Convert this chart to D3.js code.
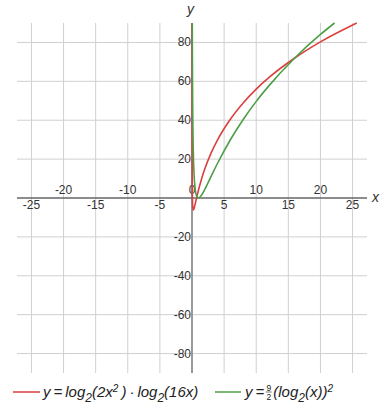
<!DOCTYPE html>
<html><head><meta charset="utf-8">
<script src="https://cdn.jsdelivr.net/npm/d3@7"></script>
<style>body{margin:0;background:#fff}svg{display:block}</style>
</head><body>
<script>
// Data
const xTicksAbove = [-20, -10, 0, 10, 20];
const xTicksBelow = [-25, -15, -5, 5, 15, 25];
const yTicks = [-80, -60, -40, -20, 20, 40, 60, 80];
const xGrid = [-25, -20, -15, -10, -5, 0, 5, 10, 15, 20, 25];
const redX = [0.0017, 0.002, 0.005, 0.01, 0.02, 0.04, 0.0625, 0.1, 0.21, 0.35, 0.5, 0.707, 1, 1.5, 2, 3, 4, 6, 8, 10, 12, 16, 20, 25.65];
const redY = [90, 84.1, 52.1, 32.5, 16.9, 5.3, 0, -3.8, -6.1, -5.0, -3, 0, 4, 9.95, 15, 23.3, 30, 40.6, 49, 56, 62, 72, 80.3, 90];
const greenX = [0.0453, 0.06, 0.1, 0.2, 0.3, 0.5, 0.7, 1, 1.5, 2, 3, 4, 6, 8, 10, 12, 16, 20, 22.2];
const greenY = [90, 74.1, 49.7, 24.3, 13.6, 4.5, 1.2, 0, 1.5, 4.5, 11.3, 18, 30.1, 40.5, 49.7, 57.8, 72, 84.1, 90];

const W = 384, H = 415;
const svg = d3.select("body").append("svg").attr("width", W).attr("height", H);
const x = d3.scaleLinear().domain([-27.25, 27.25]).range([17, 367]);
const y = d3.scaleLinear().domain([-90, 90]).range([373, 23]);
const tickFont = "'Liberation Sans', Arial, sans-serif";
const gridC = "#d0d0d0";

// grid
svg.append("g").selectAll("line").data(xGrid).join("line")
  .attr("x1", d => x(d)).attr("x2", d => x(d)).attr("y1", y(90)).attr("y2", y(-90))
  .attr("stroke", gridC).attr("stroke-width", 1);
svg.append("g").selectAll("line").data(yTicks).join("line")
  .attr("x1", x(-27.25)).attr("x2", x(27.25)).attr("y1", d => y(d)).attr("y2", d => y(d))
  .attr("stroke", gridC).attr("stroke-width", 1);

// axes
svg.append("line").attr("x1", x(0)).attr("x2", x(0)).attr("y1", y(90)).attr("y2", y(-90))
  .attr("stroke", "#999").attr("stroke-width", 2);
svg.append("line").attr("x1", x(-27.25)).attr("x2", x(27.25)).attr("y1", y(0)).attr("y2", y(0))
  .attr("stroke", "#666").attr("stroke-width", 1.5);

// tick labels
const tl = svg.append("g").attr("font-family", tickFont).attr("font-size", 12).attr("fill", "#333");
tl.selectAll("text.a").data(xTicksAbove).join("text").attr("class", "a")
  .attr("x", d => x(d)).attr("y", y(0) - 4).attr("text-anchor", "middle").text(d => d);
tl.selectAll("text.b").data(xTicksBelow).join("text").attr("class", "b")
  .attr("x", d => x(d)).attr("y", y(0) + 10.5).attr("text-anchor", "middle").text(d => d);
tl.selectAll("text.c").data(yTicks).join("text").attr("class", "c")
  .attr("x", x(0) - 1).attr("y", d => y(d) + 4).attr("text-anchor", "end").text(d => d);

// axis names
svg.append("text").attr("x", 372).attr("y", y(0) + 4).attr("font-family", tickFont)
  .attr("font-style", "italic").attr("font-size", 14).attr("fill", "#333").text("x");
svg.append("text").attr("x", x(0) - 5).attr("y", 14).attr("font-family", tickFont)
  .attr("font-style", "italic").attr("font-size", 14).attr("fill", "#333").text("y");

// curves
const red = "#d9413f", green = "#4e9e46";
const line = d3.line().x(d => x(d[0])).y(d => y(d[1])).curve(d3.curveMonotoneX);
svg.append("path").datum(d3.zip(redX, redY)).attr("d", line)
  .attr("fill", "none").attr("stroke", red).attr("stroke-width", 1.6);
svg.append("path").datum(d3.zip(greenX, greenY)).attr("d", line)
  .attr("fill", "none").attr("stroke", green).attr("stroke-width", 1.6);

// legend
const ly = 392;
svg.append("line").attr("x1", 13).attr("x2", 40).attr("y1", ly).attr("y2", ly).attr("stroke", red).attr("stroke-width", 1.5);
svg.append("line").attr("x1", 215).attr("x2", 241).attr("y1", ly).attr("y2", ly).attr("stroke", green).attr("stroke-width", 1.5);
const lf = 15;
const t1 = svg.append("text").attr("x", 43).attr("y", ly + 5).attr("font-family", tickFont)
  .attr("font-style", "italic").attr("font-size", lf).attr("fill", "#222");
t1.append("tspan").text("y\u2009=\u2009log");
t1.append("tspan").attr("dy", 5).attr("font-size", 12).text("2");
t1.append("tspan").attr("dy", -5).text("(2x");
t1.append("tspan").attr("dy", -5).attr("font-size", 10).text("2");
t1.append("tspan").attr("dy", 5).text("\u2009)\u2009·\u2009log");
t1.append("tspan").attr("dy", 5).attr("font-size", 12).text("2");
t1.append("tspan").attr("dy", -5).text("(16x)");

const t2 = svg.append("text").attr("x", 245).attr("y", ly + 5).attr("font-family", tickFont)
  .attr("font-style", "italic").attr("font-size", lf).attr("fill", "#222");
t2.append("tspan").text("y\u2009=");
const fx = 245 + t2.node().getComputedTextLength() + 1.5;
svg.append("text").attr("x", fx + 3).attr("y", ly - 1.5).attr("text-anchor", "middle").attr("font-family", tickFont).attr("font-size", 8.5).attr("fill", "#222").text("9");
svg.append("line").attr("x1", fx).attr("x2", fx + 6).attr("y1", ly).attr("y2", ly).attr("stroke", "#222").attr("stroke-width", 0.6);
svg.append("text").attr("x", fx + 3).attr("y", ly + 7.5).attr("text-anchor", "middle").attr("font-family", tickFont).attr("font-size", 8.5).attr("fill", "#222").text("2");
const t3 = svg.append("text").attr("x", fx + 7.5).attr("y", ly + 5).attr("font-family", tickFont)
  .attr("font-style", "italic").attr("font-size", lf).attr("fill", "#222");
t3.append("tspan").text("(log");
t3.append("tspan").attr("dy", 5).attr("font-size", 12).text("2");
t3.append("tspan").attr("dy", -5).text("(x))");
t3.append("tspan").attr("dy", -5).attr("font-size", 10).text("2");
</script>
</body></html>
